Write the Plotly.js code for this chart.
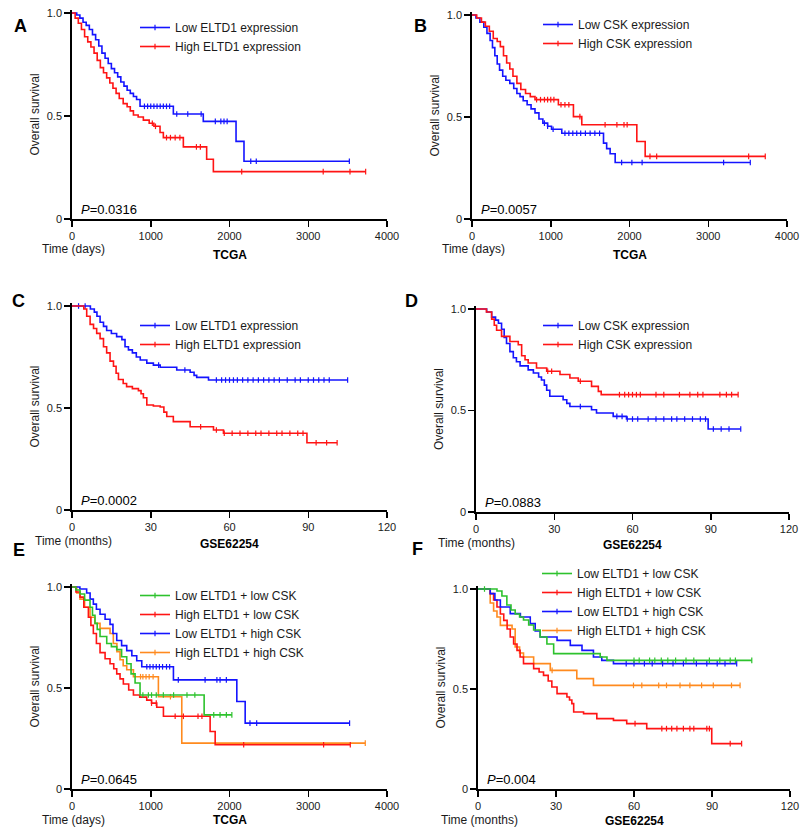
<!DOCTYPE html>
<html>
<head>
<meta charset="utf-8">
<script src="https://cdn.plot.ly/plotly-3.0.1.min.js"></script>
<style>html,body{margin:0;padding:0;background:#fff;}#chart{width:800px;height:827px;}</style>
</head>
<body>
<div id="chart"></div>
<script>
// ---------------- DATA ----------------
// Panel A (TCGA, days) ELTD1
const A_lowT = [0, 60, 100, 140, 180, 220, 260, 300, 340, 380, 420, 460, 500, 540, 580, 620, 660, 700, 740, 780, 820, 864, 1287, 1667, 2083, 2184];
const A_lowS = [1.0, 0.99, 0.975, 0.955, 0.94, 0.92, 0.895, 0.87, 0.84, 0.805, 0.78, 0.755, 0.73, 0.71, 0.69, 0.665, 0.645, 0.625, 0.61, 0.595, 0.58, 0.547, 0.51, 0.474, 0.377, 0.28];
const A_lowC = [920, 960, 1000, 1040, 1080, 1120, 1160, 1200, 1240, 1330, 1470, 1640, 1820, 1890, 1930, 1970, 2270, 2340, 3522];
const A_highT = [0, 40, 80, 120, 160, 200, 240, 280, 320, 360, 400, 440, 480, 520, 560, 600, 650, 700, 740, 780, 840, 906, 980, 1040, 1118, 1160, 1414, 1710, 1795];
const A_highS = [1.0, 0.975, 0.95, 0.92, 0.885, 0.86, 0.835, 0.805, 0.77, 0.735, 0.71, 0.685, 0.66, 0.635, 0.61, 0.585, 0.56, 0.545, 0.525, 0.505, 0.495, 0.48, 0.465, 0.45, 0.42, 0.395, 0.35, 0.29, 0.23];
const A_highC = [1020, 1060, 1200, 1250, 1310, 1370, 1580, 1630, 2155, 3190, 3530, 3729];

// Panel B (TCGA, days) CSK
const B_lowT = [0, 50, 100, 150, 190, 230, 260, 290, 320, 350, 390, 430, 480, 530, 570, 610, 650, 700, 750, 800, 850, 900, 960, 1010, 1140, 1670, 1710, 1754, 1818];
const B_lowS = [1.0, 0.985, 0.965, 0.94, 0.91, 0.875, 0.84, 0.8, 0.76, 0.73, 0.7, 0.68, 0.665, 0.64, 0.615, 0.6, 0.58, 0.56, 0.54, 0.52, 0.49, 0.47, 0.455, 0.44, 0.42, 0.372, 0.345, 0.32, 0.277];
const B_lowC = [920, 960, 1030, 1180, 1230, 1280, 1330, 1380, 1440, 1500, 1560, 1620, 1900, 2030, 2160, 3195, 3534];
const B_highT = [0, 60, 120, 170, 220, 270, 320, 360, 400, 440, 480, 520, 570, 620, 680, 740, 800, 1097, 1288, 1394, 2093, 2199];
const B_highS = [1.0, 0.985, 0.965, 0.945, 0.92, 0.885, 0.87, 0.845, 0.8, 0.765, 0.735, 0.7, 0.665, 0.635, 0.615, 0.6, 0.585, 0.56, 0.502, 0.462, 0.38, 0.307];
const B_highC = [820, 870, 920, 960, 1000, 1040, 1130, 1180, 1230, 1370, 1690, 1840, 1930, 1970, 2260, 2345, 3513, 3724];

// Panel C (GSE62254, months) ELTD1
const C_lowT = [0, 7, 8.5, 9.5, 10.7, 12, 13.2, 15, 17, 19, 20.2, 21.5, 23, 24.5, 26, 28.5, 31, 33.6, 39.9, 45, 46.5, 47.5, 52];
const C_lowS = [1.0, 0.985, 0.97, 0.95, 0.92, 0.9, 0.88, 0.865, 0.85, 0.835, 0.8, 0.785, 0.77, 0.75, 0.735, 0.72, 0.71, 0.7, 0.686, 0.675, 0.66, 0.65, 0.637];
const C_lowC = [2.5, 5, 33, 43, 55, 57, 58.5, 60, 61.5, 63, 65, 67, 69, 71, 73, 75, 77, 79, 82, 85, 87, 90, 92, 94, 96, 98, 105];
const C_highT = [0, 4.5, 5.6, 6.9, 8.2, 9.4, 10.7, 12, 13.2, 14.5, 15.8, 16.8, 17.7, 19.5, 20.8, 23, 25.3, 26.3, 27.2, 28.5, 31, 33.6, 35, 36.1, 38.6, 45, 53.9, 57.7, 89.5];
const C_highS = [1.0, 0.985, 0.95, 0.91, 0.89, 0.866, 0.84, 0.8, 0.77, 0.73, 0.705, 0.67, 0.64, 0.62, 0.605, 0.595, 0.585, 0.57, 0.55, 0.515, 0.51, 0.505, 0.48, 0.458, 0.433, 0.408, 0.392, 0.376, 0.33];
const C_highC = [49, 55, 58, 61, 64, 67, 70, 72, 75, 78, 80, 83, 86, 88, 93, 97, 101];

// Panel D (GSE62254, months) CSK
const D_lowT = [0, 4.1, 6, 7.5, 8.6, 9.8, 10.8, 11.7, 13, 14.3, 15.5, 16.9, 20, 22, 24, 25.1, 26.2, 27.1, 28.3, 33.4, 34.8, 36, 44.3, 46.2, 52.6, 57.7, 89];
const D_lowS = [1.0, 0.985, 0.96, 0.945, 0.93, 0.9, 0.86, 0.83, 0.79, 0.76, 0.74, 0.72, 0.7, 0.685, 0.665, 0.65, 0.625, 0.6, 0.57, 0.553, 0.535, 0.52, 0.504, 0.488, 0.471, 0.458, 0.409];
const D_lowC = [40, 54, 56, 58, 60, 62, 66, 69, 72, 75, 77, 80, 83, 86, 88, 91, 94, 97, 101.5];
const D_highT = [0, 4, 6, 7, 7.9, 9.8, 13, 16.2, 17.5, 18.8, 20, 23.2, 27.1, 32.2, 36, 39.2, 44.3, 46.9, 48];
const D_highS = [1.0, 0.985, 0.95, 0.92, 0.895, 0.865, 0.84, 0.824, 0.77, 0.75, 0.734, 0.709, 0.693, 0.677, 0.66, 0.644, 0.619, 0.594, 0.578];
const D_highC = [27.5, 29, 40, 55, 57, 58.5, 60, 61.5, 63, 69, 72, 78, 82, 85, 87, 93.5, 96, 98, 100.5];

// Panel E (TCGA, days) combined
const E_llT = [0, 50, 102, 160, 229, 260, 292, 320, 356, 441, 500, 568, 630, 695, 750, 801, 864, 1678];
const E_llS = [1.0, 0.985, 0.965, 0.935, 0.9, 0.86, 0.82, 0.79, 0.755, 0.72, 0.705, 0.69, 0.655, 0.62, 0.57, 0.525, 0.465, 0.367];
const E_llC = [900, 970, 1010, 1070, 1160, 1290, 1460, 1560, 1800, 1880, 1960, 2030];
const E_hlT = [0, 50, 102, 150, 208, 240, 271, 310, 356, 420, 483, 530, 568, 610, 652, 720, 780, 860, 949, 1010, 1076, 1161, 1754, 1818];
const E_hlS = [1.0, 0.975, 0.95, 0.9, 0.85, 0.81, 0.77, 0.72, 0.675, 0.645, 0.62, 0.595, 0.57, 0.545, 0.52, 0.49, 0.465, 0.455, 0.44, 0.425, 0.405, 0.36, 0.285, 0.219];
const E_hlC = [1010, 1070, 1310, 1415, 1600, 1650, 2180, 3195, 3534];
const E_lhT = [0, 100, 186, 230, 271, 310, 356, 420, 483, 520, 568, 630, 695, 760, 822, 886, 1288, 2093, 2199];
const E_lhS = [1.0, 0.99, 0.97, 0.94, 0.915, 0.89, 0.865, 0.84, 0.815, 0.77, 0.735, 0.71, 0.685, 0.66, 0.635, 0.605, 0.54, 0.433, 0.326];
const E_lhC = [950, 990, 1030, 1070, 1110, 1150, 1200, 1240, 1350, 1690, 1840, 1880, 1960, 2260, 2345, 3525];
const E_hhT = [0, 60, 102, 160, 229, 290, 356, 483, 525, 570, 610, 650, 695, 780, 1097, 1394];
const E_hhS = [1.0, 0.97, 0.94, 0.9, 0.85, 0.82, 0.795, 0.77, 0.72, 0.68, 0.64, 0.61, 0.59, 0.556, 0.457, 0.227];
const E_hhC = [870, 900, 940, 980, 1030, 1250, 3724];

// Panel F (GSE62254, months) combined
const F_llT = [0, 7.3, 9.2, 11.1, 12.7, 14.3, 16, 17.5, 19.5, 21.4, 23.9, 26.5, 29.1, 47, 49.6];
const F_llS = [1.0, 0.99, 0.965, 0.92, 0.895, 0.875, 0.86, 0.845, 0.82, 0.795, 0.76, 0.725, 0.677, 0.66, 0.643];
const F_llC = [2.5, 60, 62, 66, 68, 70.5, 73, 76, 80, 83, 89, 93, 97, 99, 105.3];
const F_hlT = [0, 4.7, 6, 7.3, 8.6, 9.9, 11.2, 12.4, 13.7, 15, 16.2, 17.5, 21.4, 23.5, 25.2, 27, 28.4, 30.4, 34.2, 35.2, 36.1, 36.8, 40.6, 45.7, 52.1, 57.2, 64.9, 89.9];
const F_hlS = [1.0, 0.977, 0.945, 0.91, 0.875, 0.843, 0.8, 0.76, 0.725, 0.693, 0.66, 0.627, 0.602, 0.585, 0.568, 0.54, 0.51, 0.477, 0.46, 0.445, 0.427, 0.385, 0.377, 0.352, 0.343, 0.327, 0.302, 0.227];
const F_hlC = [60.4, 70.7, 72.5, 74.5, 76.5, 79, 81.5, 83, 88, 89, 97, 101.4];
const F_lhT = [0, 4.7, 6.5, 8.6, 12.4, 16.3, 20.1, 22, 23.9, 30.4, 35.5, 40, 44.4, 47.6, 52.1];
const F_lhS = [1.0, 0.977, 0.945, 0.91, 0.877, 0.86, 0.827, 0.79, 0.76, 0.743, 0.718, 0.693, 0.66, 0.643, 0.627];
const F_lhC = [57, 60, 64, 67, 71, 75, 79, 84, 88, 92, 95, 99.5];
const F_hhT = [0, 4.7, 6, 7.3, 8.6, 13.1, 14.3, 16, 17.5, 21.4, 27.8, 38, 44.4];
const F_hhS = [1.0, 0.93, 0.89, 0.86, 0.818, 0.8, 0.71, 0.68, 0.66, 0.627, 0.593, 0.552, 0.518];
const F_hhC = [28.5, 59.8, 63, 69.5, 72.5, 77.7, 81.5, 86, 90.5, 97.5, 100.8];

// Labels
const panelLetters = ['A', 'B', 'C', 'D', 'E', 'F'];
const pValues = ['0.0316', '0.0057', '0.0002', '0.0883', '0.0645', '0.004'];
const datasetNames = ['TCGA', 'TCGA', 'GSE62254', 'GSE62254', 'TCGA', 'GSE62254'];
const timeLabels = ['Time (days)', 'Time (days)', 'Time (months)', 'Time (months)', 'Time (days)', 'Time (months)'];
const namesELTD1 = ['Low ELTD1 expression', 'High ELTD1 expression'];
const namesCSK = ['Low CSK expression', 'High CSK expression'];
const namesCombo = ['Low ELTD1 + low CSK', 'High ELTD1 + low CSK', 'Low ELTD1 + high CSK', 'High ELTD1 + high CSK'];
const yTickVals = [0, 0.5, 1.0];
const yTickText = ['0', '0.5', '1.0'];

// ---------------- DRAWING ----------------
const FONT = 'Liberation Sans, Arial, Helvetica, sans-serif';
const BLUE = '#1414ff', RED = '#ff1414', GREEN = '#2dc22d', ORANGE = '#ff8a1e';

function survAt(t, T, S) {
  let v = S[0];
  for (let i = 0; i < T.length; i++) { if (T[i] <= t) v = S[i]; else break; }
  return v;
}
const traces = [];
function addCurve(T, S, C, color, name, k, rank) {
  const xa = k === 1 ? 'x' : 'x' + k, ya = k === 1 ? 'y' : 'y' + k;
  const endT = Math.max(T[T.length - 1], Math.max.apply(null, C));
  traces.push({x: T.concat([endT]), y: S.concat([S[S.length - 1]]), mode: 'lines',
    line: {shape: 'hv', color: color, width: 1.6}, xaxis: xa, yaxis: ya, showlegend: false, hoverinfo: 'skip'});
  traces.push({x: C, y: C.map(c => survAt(c, T, S)), mode: 'markers',
    marker: {symbol: 'line-ns', size: 4, color: color, line: {color: color, width: 1.2}},
    xaxis: xa, yaxis: ya, showlegend: false, hoverinfo: 'skip'});
  traces.push({x: [null], y: [null], mode: 'lines+markers', name: name,
    line: {color: color, width: 1.6},
    marker: {symbol: 'line-ns', size: 4, color: color, line: {color: color, width: 1.2}},
    xaxis: xa, yaxis: ya, showlegend: true, legendrank: rank,
    legend: k === 1 ? 'legend' : 'legend' + k});
}
addCurve(A_lowT, A_lowS, A_lowC, BLUE, namesELTD1[0], 1, 1);
addCurve(A_highT, A_highS, A_highC, RED, namesELTD1[1], 1, 2);
addCurve(B_lowT, B_lowS, B_lowC, BLUE, namesCSK[0], 2, 1);
addCurve(B_highT, B_highS, B_highC, RED, namesCSK[1], 2, 2);
addCurve(C_lowT, C_lowS, C_lowC, BLUE, namesELTD1[0], 3, 1);
addCurve(C_highT, C_highS, C_highC, RED, namesELTD1[1], 3, 2);
addCurve(D_lowT, D_lowS, D_lowC, BLUE, namesCSK[0], 4, 1);
addCurve(D_highT, D_highS, D_highC, RED, namesCSK[1], 4, 2);
addCurve(E_hhT, E_hhS, E_hhC, ORANGE, namesCombo[3], 5, 4);
addCurve(E_lhT, E_lhS, E_lhC, BLUE, namesCombo[2], 5, 3);
addCurve(E_hlT, E_hlS, E_hlC, RED, namesCombo[1], 5, 2);
addCurve(E_llT, E_llS, E_llC, GREEN, namesCombo[0], 5, 1);
addCurve(F_hhT, F_hhS, F_hhC, ORANGE, namesCombo[3], 6, 4);
addCurve(F_hlT, F_hlS, F_hlC, RED, namesCombo[1], 6, 2);
addCurve(F_lhT, F_lhS, F_lhC, BLUE, namesCombo[2], 6, 3);
addCurve(F_llT, F_llS, F_llC, GREEN, namesCombo[0], 6, 1);

const W = 800, H = 827;
// panel geometry in pixels: [xLeft, xRight, yZeroPx, yOnePx]
const geom = [
  [72, 387, 219, 13], [472, 787, 219, 15],
  [72, 387, 510, 306], [476, 789, 512, 309],
  [72, 387, 789, 587], [478, 790, 789, 589]
];
const xMax = [4000, 4000, 120, 120, 4000, 120];
const xStep = [1000, 1000, 30, 30, 1000, 30];
const YTOP = 1.015;
const layout = {
  width: W, height: H, margin: {l: 0, r: 0, t: 0, b: 0},
  paper_bgcolor: '#fff', plot_bgcolor: 'rgba(0,0,0,0)',
  font: {family: FONT, color: '#1a1a1a', size: 12},
  annotations: [], showlegend: true
};
const legendPos = [[135, 13], [538, 10], [135, 311], [538, 311], [135, 581], [537, 559]];
geom.forEach((g, i) => {
  const k = i + 1;
  const [xl, xr, y0, y1] = g;
  const scale = y0 - y1;
  const ytopPx = y1 - (YTOP - 1) * scale;
  const xa = 'xaxis' + (k === 1 ? '' : k), ya = 'yaxis' + (k === 1 ? '' : k);
  const xr_ = 'x' + (k === 1 ? '' : k), yr_ = 'y' + (k === 1 ? '' : k);
  const common = {showline: true, linecolor: '#000', linewidth: 1.8, ticks: 'outside', ticklen: 6,
    tickwidth: 1.5, tickcolor: '#000', showgrid: false, zeroline: false, fixedrange: true,
    tickfont: {family: FONT, size: 11, color: '#1a1a1a'}};
  layout[xa] = Object.assign({}, common, {domain: [xl / W, xr / W], range: [0, xMax[i]], dtick: xStep[i], tick0: 0,
    anchor: yr_});
  layout[ya] = Object.assign({}, common, {domain: [1 - y0 / H, 1 - ytopPx / H], range: [0, YTOP],
    tickvals: yTickVals, ticktext: yTickText, anchor: xr_,
    title: {text: 'Overall survival', font: {family: FONT, size: 12, color: '#1a1a1a'}, standoff: 4}});
  const lg = {x: legendPos[i][0] / W, y: 1 - legendPos[i][1] / H, xanchor: 'left', yanchor: 'top',
    bgcolor: 'rgba(0,0,0,0)', borderwidth: 0, font: {family: FONT, size: 12, color: '#1a1a1a'},
    tracegroupgap: 0, traceorder: 'normal'};
  layout[k === 1 ? 'legend' : 'legend' + k] = lg;
  // panel letter
  const letterPos = [[12, 14], [420, 14], [10, 301], [411, 301], [11, 562], [417, 561]][i];
  layout.annotations.push({text: '<b>' + panelLetters[i] + '</b>', xref: 'paper', yref: 'paper',
    x: letterPos[0] / W, y: 1 - letterPos[1] / H, showarrow: false, font: {family: FONT, size: 18, color: '#000'}});
  // P value
  layout.annotations.push({text: '<i>P</i>=' + pValues[i], xref: 'paper', yref: 'paper',
    x: (xl + 7) / W, y: 1 - (y0 - 10) / H, xanchor: 'left', yanchor: 'middle', showarrow: false,
    font: {family: FONT, size: 13, color: '#000'}});
  // time label
  const timeY = [249, 249, 541, 543, 820, 820][i];
  layout.annotations.push({text: timeLabels[i], xref: 'paper', yref: 'paper',
    x: (xl + 1) / W, y: 1 - timeY / H, xanchor: 'center', yanchor: 'middle', showarrow: false,
    font: {family: FONT, size: 12, color: '#1a1a1a'}});
  // dataset
  const dsY = [255, 255, 544, 545, 820, 821][i];
  layout.annotations.push({text: '<b>' + datasetNames[i] + '</b>', xref: 'paper', yref: 'paper',
    x: ((xl + xr) / 2) / W, y: 1 - dsY / H, xanchor: 'center', yanchor: 'middle', showarrow: false,
    font: {family: FONT, size: 12, color: '#000'}});
});
Plotly.newPlot('chart', traces, layout, {displayModeBar: false, staticPlot: true});
</script>
</body>
</html>
